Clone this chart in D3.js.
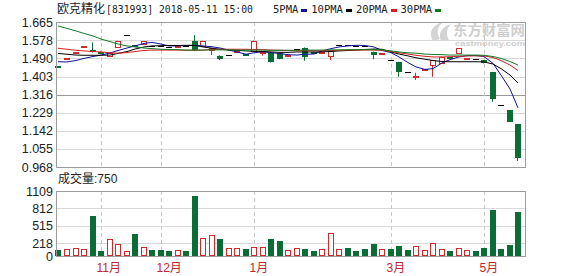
<!DOCTYPE html>
<html>
<head>
<meta charset="utf-8">
<script src="https://cdn.jsdelivr.net/npm/d3@7"></script>
<style>
    body { margin: 0; background: #fff; }
    svg { display: block; font-family: "Liberation Sans", Arial, "Noto Sans CJK SC", sans-serif; }
</style>
</head>
<body>
<svg id="chart" width="578" height="276"></svg>
<script>
// daily candles, oldest first
const opens = [1.453, 1.488, 1.516, 1.543, 1.529, 1.522, 1.503, 1.545, 1.601, 1.553,
    1.561, 1.551, 1.549, 1.547, 1.548, 1.550, 1.575, 1.551, 1.531, 1.503,
    1.504, 1.522, 1.512, 1.526, 1.514, 1.514, 1.514, 1.500, 1.533, 1.542,
    1.522, 1.519, 1.503, 1.554, 1.553, 1.551, 1.548, 1.522, 1.513, 1.482,
    1.474, 1.423, 1.404, 1.436, 1.458, 1.466, 1.495, 1.514, 1.488, 1.487,
    1.482, 1.425, 1.266, 1.242, 1.175];
const highs = [1.453, 1.492, 1.521, 1.549, 1.567, 1.523, 1.517, 1.575, 1.601, 1.553,
    1.573, 1.551, 1.549, 1.547, 1.551, 1.550, 1.602, 1.575, 1.540, 1.505,
    1.504, 1.525, 1.512, 1.576, 1.523, 1.517, 1.515, 1.507, 1.533, 1.543,
    1.522, 1.522, 1.526, 1.554, 1.553, 1.551, 1.548, 1.523, 1.516, 1.482,
    1.474, 1.423, 1.421, 1.439, 1.481, 1.499, 1.495, 1.539, 1.491, 1.487,
    1.482, 1.425, 1.266, 1.242, 1.175];
const lows = [1.445, 1.488, 1.516, 1.543, 1.518, 1.519, 1.503, 1.545, 1.601, 1.548,
    1.561, 1.551, 1.549, 1.547, 1.548, 1.550, 1.525, 1.551, 1.506, 1.482,
    1.504, 1.522, 1.510, 1.526, 1.503, 1.470, 1.486, 1.500, 1.533, 1.479,
    1.519, 1.519, 1.482, 1.554, 1.553, 1.551, 1.548, 1.486, 1.513, 1.482,
    1.402, 1.423, 1.386, 1.436, 1.402, 1.466, 1.492, 1.514, 1.488, 1.487,
    1.466, 1.282, 1.266, 1.186, 0.997];
const closes = [1.446, 1.492, 1.521, 1.549, 1.525, 1.520, 1.517, 1.575, 1.601, 1.548,
    1.573, 1.551, 1.549, 1.547, 1.551, 1.550, 1.530, 1.574, 1.538, 1.485,
    1.504, 1.525, 1.510, 1.575, 1.522, 1.473, 1.486, 1.506, 1.533, 1.498,
    1.519, 1.522, 1.525, 1.554, 1.553, 1.551, 1.548, 1.507, 1.516, 1.482,
    1.426, 1.423, 1.407, 1.439, 1.480, 1.499, 1.492, 1.538, 1.491, 1.487,
    1.466, 1.293, 1.266, 1.186, 1.010];
const volumes = [102, 119, 136, 119, 688, 91, 290, 205, 85, 381,
    154, 108, 102, 91, 102, 91, 1029, 307, 358, 296,
    136, 136, 125, 159, 159, 296, 262, 97, 136, 119,
    91, 119, 392, 119, 142, 85, 125, 205, 125, 125,
    171, 102, 171, 102, 222, 119, 85, 136, 102, 85,
    142, 790, 119, 188, 750];

// moving averages as shown on the chart
const ma5 = [1.474, 1.473, 1.480, 1.490, 1.499, 1.506, 1.516, 1.528, 1.540, 1.550,
    1.562, 1.567, 1.559, 1.550, 1.550, 1.552, 1.553, 1.550, 1.546, 1.540,
    1.530, 1.521, 1.510, 1.517, 1.522, 1.518, 1.513, 1.508, 1.506, 1.510,
    1.511, 1.526, 1.537, 1.545, 1.550, 1.553, 1.552, 1.545, 1.528, 1.518,
    1.497, 1.470, 1.449, 1.437, 1.441, 1.468, 1.484, 1.497, 1.503, 1.504,
    1.499, 1.466, 1.410, 1.343, 1.252];
const ma10 = [1.514, 1.510, 1.506, 1.505, 1.505, 1.505, 1.506, 1.514, 1.523, 1.535,
    1.545, 1.550, 1.551, 1.552, 1.552, 1.553, 1.552, 1.545, 1.539, 1.534,
    1.530, 1.529, 1.526, 1.524, 1.523, 1.521, 1.519, 1.519, 1.521, 1.521,
    1.521, 1.522, 1.523, 1.526, 1.528, 1.530, 1.533, 1.535, 1.534, 1.521,
    1.511, 1.502, 1.493, 1.486, 1.480, 1.475, 1.474, 1.474, 1.474, 1.474,
    1.473, 1.463, 1.441, 1.410, 1.372];
const ma20 = [1.539, 1.534, 1.529, 1.526, 1.523, 1.521, 1.517, 1.515, 1.518, 1.523,
    1.528, 1.530, 1.530, 1.530, 1.530, 1.529, 1.529, 1.530, 1.533, 1.534,
    1.534, 1.534, 1.534, 1.533, 1.532, 1.530, 1.529, 1.528, 1.527, 1.527,
    1.527, 1.527, 1.528, 1.529, 1.530, 1.530, 1.530, 1.530, 1.529, 1.523,
    1.517, 1.511, 1.505, 1.500, 1.497, 1.497, 1.498, 1.500, 1.502, 1.502,
    1.502, 1.494, 1.480, 1.458, 1.432];
const ma30 = [1.646, 1.634, 1.622, 1.610, 1.598, 1.583, 1.571, 1.559, 1.550, 1.545,
    1.540, 1.537, 1.534, 1.533, 1.532, 1.530, 1.530, 1.530, 1.531, 1.531,
    1.531, 1.530, 1.530, 1.530, 1.530, 1.529, 1.529, 1.529, 1.529, 1.530,
    1.530, 1.530, 1.531, 1.531, 1.532, 1.532, 1.532, 1.532, 1.531, 1.526,
    1.521, 1.517, 1.515, 1.511, 1.509, 1.508, 1.506, 1.506, 1.506, 1.506,
    1.505, 1.499, 1.490, 1.475, 1.458];

const maNames = ['5PMA', '10PMA', '20PMA', '30PMA'];
const priceLabels = ['1.665', '1.578', '1.490', '1.403', '1.316', '1.229', '1.142', '1.055', '0.968'];
const volLabels = ['1109', '812', '515', '218', '0'];
const monthIdx = [5, 12, 23, 39, 50];
const monthLabels = ['11月', '12月', '1月', '3月', '5月'];

const title = '欧克精化';
const titleInfo = '[831993] 2018-05-11 15:00';

const RED = '#d12a2a';
const GREEN = '#0b6d36';
const maColors = ['#12129c', '#000000', '#d42020', '#127a26'];

const svg = d3.select('#chart');
const plotL = 56, plotR = 525;
const priceTop = 22, priceBottom = 167;
const volTop = 191, volBottom = 256;
const n = closes.length;

// scales
const x = d3.scaleBand()
    .domain(d3.range(n))
    .range([54.2, 522.5])
    .paddingInner(0.3)
    .paddingOuter(0.15);
const left = i => Math.round(x(i));
const cx = i => left(i) + 3;

const yP = d3.scaleLinear()
    .domain([+priceLabels[priceLabels.length - 1], +priceLabels[0]])
    .range([priceBottom, priceTop]);
const yV = d3.scaleLinear()
    .domain([0, +volLabels[0]])
    .range([volBottom, volTop]);

// price axis + gridlines
const gP = svg.append('g')
    .attr('transform', `translate(${plotL},0)`)
    .call(d3.axisLeft(yP)
        .tickValues(priceLabels.map(Number))
        .tickFormat((d, i) => priceLabels[i])
        .tickSize(-(plotR - plotL))
        .tickPadding(3))
    .call(g => g.select('.domain').remove())
    .attr('font-family', '"Liberation Sans", Arial, sans-serif')
    .attr('font-size', 12.5);
gP.selectAll('.tick line')
    .attr('stroke', (d, i) => i === 4 ? '#9a9a9a' : '#d9d9d9')
    .attr('shape-rendering', 'crispEdges');
gP.selectAll('.tick text').attr('fill', '#222');

// volume axis + gridlines
const gV = svg.append('g')
    .attr('transform', `translate(${plotL},0)`)
    .call(d3.axisLeft(yV)
        .tickValues(volLabels.map(Number))
        .tickFormat((d, i) => volLabels[i])
        .tickSize(-(plotR - plotL))
        .tickPadding(3))
    .call(g => g.select('.domain').remove())
    .attr('font-family', '"Liberation Sans", Arial, sans-serif')
    .attr('font-size', 12.5);
gV.selectAll('.tick line')
    .attr('stroke', '#d9d9d9')
    .attr('shape-rendering', 'crispEdges');
gV.selectAll('.tick text').attr('fill', '#222');

// month separators
[[priceTop, priceBottom], [volTop, volBottom]].forEach(([t, b]) => {
    svg.append('g').selectAll('line')
        .data(monthIdx)
        .enter()
        .append('line')
        .attr('x1', d => cx(d) + 0.5)
        .attr('x2', d => cx(d) + 0.5)
        .attr('y1', t)
        .attr('y2', b)
        .attr('stroke', '#c8c8c8')
        .attr('stroke-dasharray', '4,3');
});

// month labels
svg.append('g').selectAll('text')
    .data(monthIdx)
    .enter()
    .append('text')
    .attr('x', d => cx(d) - 4.5)
    .attr('y', 272)
    .attr('font-size', 12)
    .attr('fill', '#c0272d')
    .text((d, i) => monthLabels[i]);

// watermark
const wm = svg.append('g').attr('fill', '#cfcfcf');
wm.append('path')
    .attr('d', 'M433,41 C428,33 432,25 443,22 C437,27 436,33 440,39 Z M441,41 C438,34 441,27 451,24 C446,29 446,35 449,40 Z')
    .attr('fill', '#d4d4d4');
wm.append('text')
    .attr('x', 453).attr('y', 35)
    .attr('font-size', 14).attr('font-weight', 'bold')
    .attr('font-family', '"Noto Sans CJK SC", sans-serif')
    .attr('textLength', 72).attr('lengthAdjust', 'spacingAndGlyphs')
    .text('东方财富网');
wm.append('text')
    .attr('x', 455).attr('y', 46)
    .attr('font-size', 8).attr('font-weight', 'bold')
    .attr('textLength', 70).attr('lengthAdjust', 'spacingAndGlyphs')
    .text('eastmoney.com');

// candles
const isUp = i => closes[i] > opens[i];
const isDown = i => closes[i] < opens[i];
const candles = svg.append('g');
d3.range(n).forEach(i => {
    const l = left(i);
    const yo = Math.round(yP(opens[i]));
    const yc = Math.round(yP(closes[i]));
    const color = isUp(i) ? RED : isDown(i) ? GREEN : '#000';
    if (highs[i] > lows[i]) {
        candles.append('line')
            .attr('x1', l + 2.5).attr('x2', l + 2.5)
            .attr('y1', yP(highs[i])).attr('y2', yP(lows[i]))
            .attr('stroke', color);
    }
    if (isUp(i)) {
        candles.append('rect')
            .attr('x', l + 0.5).attr('y', yc + 0.5)
            .attr('width', 5).attr('height', Math.max(yo - yc, 1))
            .attr('fill', '#fff').attr('stroke', RED);
    } else if (isDown(i)) {
        candles.append('rect')
            .attr('x', l).attr('y', yo)
            .attr('width', 6).attr('height', Math.max(yc - yo, 2))
            .attr('fill', GREEN);
    } else {
        candles.append('line')
            .attr('x1', l).attr('x2', l + 6)
            .attr('y1', yc + 0.5).attr('y2', yc + 0.5)
            .attr('stroke', '#000');
    }
});

// moving average lines
const line = d3.line().x((d, i) => cx(i)).y(d => yP(d));
[ma5, ma10, ma20, ma30].forEach((ma, k) => {
    svg.append('path')
        .datum(ma)
        .attr('d', line)
        .attr('fill', 'none')
        .attr('stroke', maColors[k])
        .attr('stroke-width', 1);
});

// volume bars
const volUp = i => closes[i] > opens[i] || (closes[i] === opens[i] && i > 0 && closes[i] >= closes[i - 1]);
const bars = svg.append('g');
d3.range(n).forEach(i => {
    const l = left(i);
    const top = Math.round(yV(volumes[i]));
    if (volUp(i)) {
        bars.append('rect')
            .attr('x', l + 0.5).attr('y', top + 0.5)
            .attr('width', 5).attr('height', volBottom - top - 1)
            .attr('fill', '#fff').attr('stroke', RED);
    } else {
        bars.append('rect')
            .attr('x', l).attr('y', top)
            .attr('width', 6).attr('height', volBottom - top)
            .attr('fill', GREEN);
    }
});

// panel frames
[[priceTop, priceBottom], [volTop, volBottom]].forEach(([t, b]) => {
    svg.append('rect')
        .attr('x', plotL + 0.5).attr('y', t + 0.5)
        .attr('width', plotR - plotL).attr('height', b - t)
        .attr('fill', 'none')
        .attr('stroke', '#9c9c9c');
});

// header
svg.append('text')
    .attr('x', 57).attr('y', 13)
    .attr('font-size', 12)
    .attr('font-family', '"Noto Sans CJK SC", sans-serif')
    .attr('fill', '#222')
    .text(title);
svg.append('text')
    .attr('x', 106).attr('y', 13)
    .attr('font-size', 10.5)
    .attr('font-family', '"DejaVu Sans Mono", monospace')
    .attr('fill', '#222')
    .attr('textLength', 147).attr('lengthAdjust', 'spacingAndGlyphs')
    .text(titleInfo);

// legend
const legend = svg.append('g')
    .attr('font-size', 10.5)
    .attr('font-family', '"DejaVu Sans Mono", monospace')
    .attr('fill', '#222');
let lx = 273;
maNames.forEach((name, i) => {
    const t = legend.append('text').attr('x', lx).attr('y', 13).text(name);
    const w = t.node().getComputedTextLength();
    legend.append('rect')
        .attr('x', Math.round(lx + w + 3)).attr('y', 9)
        .attr('width', 6).attr('height', 3)
        .attr('fill', maColors[i]);
    lx += w + 13;
});

// volume caption
svg.append('text')
    .attr('x', 58).attr('y', 183)
    .attr('font-size', 12)
    .attr('fill', '#222')
    .text('成交量:' + volumes[n - 1]);
</script>
</body>
</html>
